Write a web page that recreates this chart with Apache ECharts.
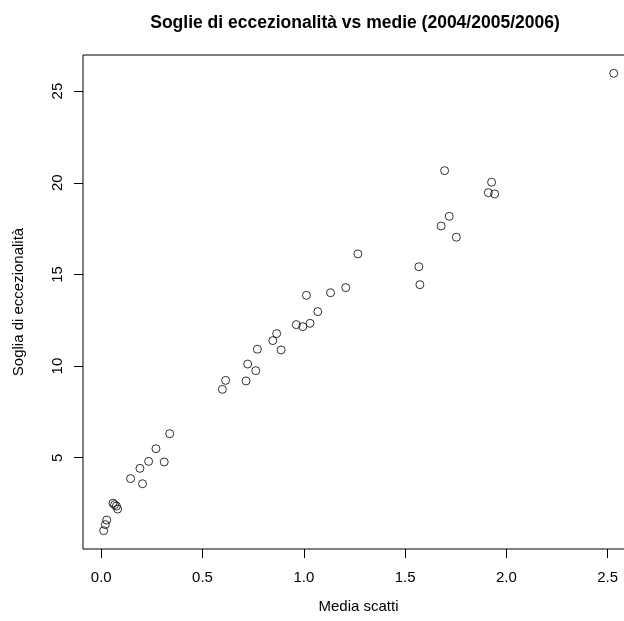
<!DOCTYPE html>
<html>
<head>
<meta charset="utf-8">
<script src="https://cdn.jsdelivr.net/npm/echarts@6/dist/echarts.min.js"></script>
<style>
  html, body { margin: 0; padding: 0; background: #fff; }
  #chart { width: 624px; height: 621px; }
</style>
</head>
<body>
<div id="chart"></div>
<script>
// Media scatti (x) e soglia di eccezionalità (y) per ciascuna serie
const mediaScatti = [
  0.012, 0.020, 0.027, 0.058, 0.066, 0.075, 0.081, 0.145, 0.191, 0.204,
  0.234, 0.270, 0.311, 0.338, 0.598, 0.614, 0.715, 0.723, 0.763, 0.771,
  0.847, 0.866, 0.888, 0.963, 0.995, 1.013, 1.031, 1.069, 1.132, 1.207,
  1.267, 1.568, 1.573, 1.678, 1.695, 1.718, 1.753, 1.911, 1.927, 1.942,
  2.530
];
const soglie = [
  1.02, 1.35, 1.60, 2.52, 2.44, 2.36, 2.20, 3.86, 4.42, 3.58,
  4.80, 5.49, 4.77, 6.31, 8.73, 9.22, 9.19, 10.11, 9.75, 10.92,
  11.39, 11.77, 10.88, 12.26, 12.15, 13.86, 12.33, 12.97, 14.00, 14.28,
  16.12, 15.42, 14.44, 17.64, 20.66, 18.17, 17.03, 19.46, 20.03, 19.39,
  25.97
];
const xTicks = [0, 0.5, 1, 1.5, 2, 2.5];
const yTicks = [5, 10, 15, 20, 25];

const points = mediaScatti.map((x, i) => [x, soglie[i]]);
const font = '"Liberation Sans", Arial, Helvetica, sans-serif';

const chart = echarts.init(document.getElementById('chart'), null, { renderer: 'canvas' });
chart.setOption({
  animation: false,
  backgroundColor: '#ffffff',
  title: {
    text: 'Soglie di eccezionalità vs medie (2004/2005/2006)',
    left: 350,
    top: 9,
    textAlign: 'center',
    textStyle: { fontFamily: font, fontSize: 17.5, fontWeight: 'bold', color: '#000' }
  },
  grid: {
    left: 83, top: 55, width: 551, height: 494,
    outerBoundsMode: 'none',
    containLabel: false,
    show: true, borderColor: '#000', borderWidth: 1, backgroundColor: 'transparent'
  },
  xAxis: {
    type: 'value',
    min: -0.09, max: 2.63,
    name: 'Media scatti',
    nameLocation: 'middle',
    nameGap: 50,
    nameTextStyle: { fontFamily: font, fontSize: 15, color: '#000' },
    axisLine: { show: false, onZero: false },
    splitLine: { show: false },
    axisTick: { show: true, inside: false, length: 9, customValues: xTicks, lineStyle: { color: '#000' } },
    axisLabel: {
      customValues: xTicks, margin: 21,
      fontFamily: font, fontSize: 15, color: '#000',
      formatter: v => v.toFixed(1)
    }
  },
  yAxis: {
    type: 'value',
    min: 0.02, max: 26.97,
    name: 'Soglia di eccezionalità',
    nameLocation: 'middle',
    nameGap: 57,
    nameRotate: 90,
    nameTextStyle: { fontFamily: font, fontSize: 15, color: '#000' },
    axisLine: { show: false, onZero: false },
    splitLine: { show: false },
    axisTick: { show: true, inside: false, length: 9, customValues: yTicks, lineStyle: { color: '#000' } },
    axisLabel: {
      customValues: yTicks, margin: 18, rotate: 90,
      fontFamily: font, fontSize: 15, color: '#000'
    }
  },
  series: [{
    type: 'scatter',
    data: points,
    symbol: 'circle',
    symbolSize: 8,
    itemStyle: { color: 'rgba(0,0,0,0)', borderColor: '#000', borderWidth: 1 }
  }]
});
</script>
</body>
</html>
